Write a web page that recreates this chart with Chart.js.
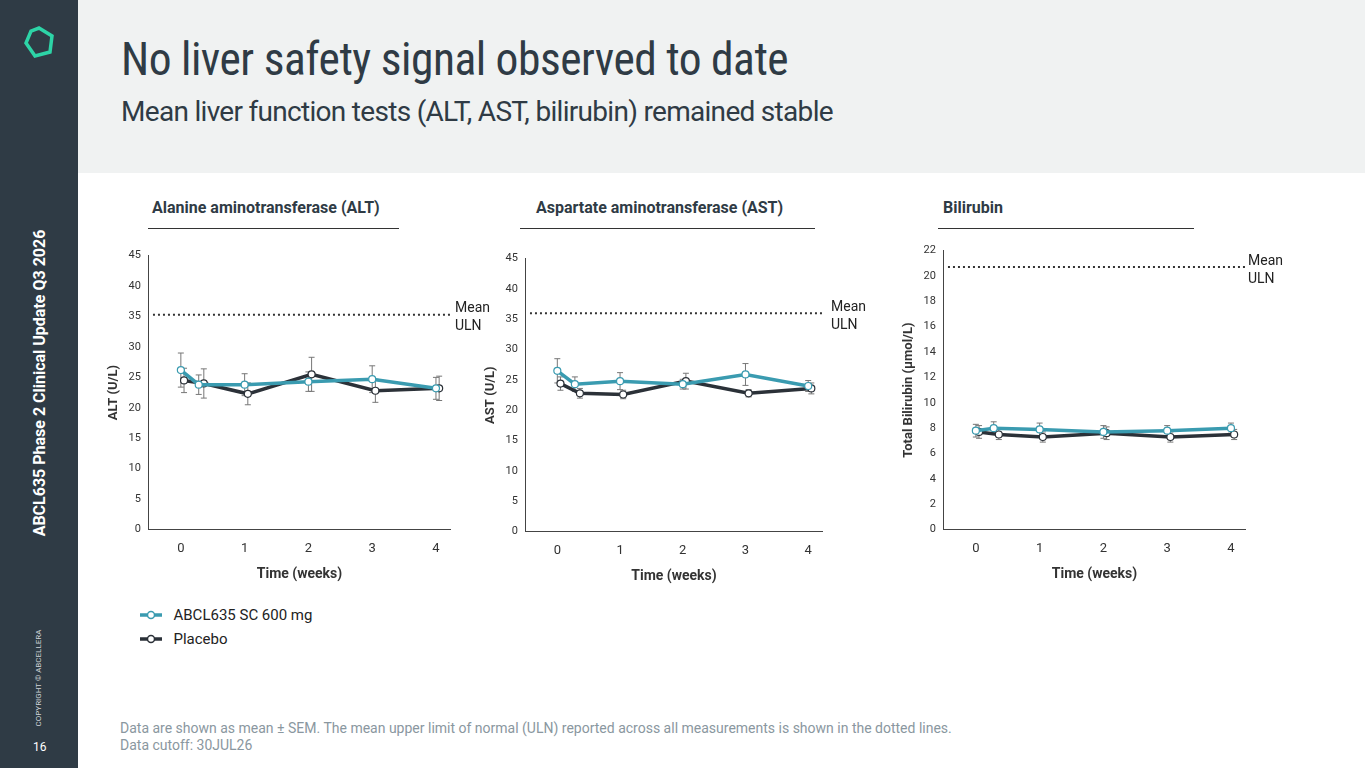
<html>
<head>
<script src="https://cdn.jsdelivr.net/npm/chart.js"></script>
<style>
body{margin:0;width:1365px;height:768px;position:relative;background:#fff;font-family:Roboto,sans-serif;overflow:hidden}
#side{position:absolute;left:0;top:0;width:78px;height:768px;background:#2f3b45}
#head{position:absolute;left:78px;top:0;width:1287px;height:173px;background:#f0f2f2}
h1{position:absolute;left:121px;top:33px;margin:0;font-size:45.5px;font-weight:400;color:#2f3b45;font-family:"Roboto Condensed",Roboto,sans-serif;letter-spacing:-0.5px}
h2{position:absolute;left:121px;top:95px;margin:0;font-size:28px;font-weight:400;color:#2f3b45;letter-spacing:-0.7px}
.sec{position:absolute;top:198px;font-size:16px;font-weight:700;color:#2f3b45;border-bottom:1.5px solid #333;padding-bottom:11px}
.box{position:absolute}
.uln{position:absolute;font-size:14px;color:#222;line-height:18px}
#vert{position:absolute;left:39px;top:383px;transform:translate(-50%,-50%) rotate(-90deg);white-space:nowrap;color:#fff;font-size:16px;font-weight:700}
#copy{position:absolute;left:38px;top:678px;transform:translate(-50%,-50%) rotate(-90deg);white-space:nowrap;color:#cfd5d8;font-size:8px}
#pg{position:absolute;left:33px;top:740px;color:#fff;font-size:12px}
.leg{position:absolute;left:140px;font-size:15px;color:#222}
.foot{position:absolute;left:120px;font-size:14px;color:#8a97a0}
</style>
</head>
<body>
<div id="side"></div>
<svg style="position:absolute;left:22px;top:25px" width="34" height="34"><polygon points="17,3 30,11 28,27 13,31 4,18 9,6" fill="none" stroke="#2dd4a7" stroke-width="3.5"/></svg>
<div id="vert">ABCL635 Phase 2 Clinical Update Q3 2026</div>
<div id="copy">COPYRIGHT © ABCELLERA</div>
<div id="pg">16</div>
<div id="head"></div>
<h1>No liver safety signal observed to date</h1>
<h2>Mean liver function tests (ALT, AST, bilirubin) remained stable</h2>

<div class="sec" style="left:148px;width:247px;padding-left:4px">Alanine aminotransferase (ALT)</div>
<div class="sec" style="left:520px;width:279px;padding-left:16px">Aspartate aminotransferase (AST)</div>
<div class="sec" style="left:938px;width:251px;padding-left:5px">Bilirubin</div>

<div class="box" style="left:102px;top:246px;width:358px;height:341px"><canvas id="c1"></canvas></div>
<div class="box" style="left:479px;top:249px;width:353px;height:340px"><canvas id="c2"></canvas></div>
<div class="box" style="left:897px;top:241px;width:358px;height:346px"><canvas id="c3"></canvas></div>
<div class="uln" style="left:455px;top:298px">Mean<br>ULN</div>
<div class="uln" style="left:831px;top:297px">Mean<br>ULN</div>
<div class="uln" style="left:1248px;top:251px">Mean<br>ULN</div>

<svg style="position:absolute;left:138px;top:606px" width="26" height="40">
<line x1="2" y1="9" x2="24" y2="9" stroke="#3a9bb0" stroke-width="3.5"/><circle cx="13" cy="9" r="3.5" fill="#fff" stroke="#3a9bb0" stroke-width="1.5"/>
<line x1="2" y1="33" x2="24" y2="33" stroke="#2b3138" stroke-width="3.5"/><circle cx="13" cy="33" r="3.5" fill="#fff" stroke="#2b3138" stroke-width="1.5"/>
</svg>
<div class="leg" style="top:606px">&nbsp;&nbsp;&nbsp;&nbsp;&nbsp;&nbsp;&nbsp;&nbsp;&nbsp;ABCL635 SC 600 mg</div>
<div class="leg" style="top:630px">&nbsp;&nbsp;&nbsp;&nbsp;&nbsp;&nbsp;&nbsp;&nbsp;&nbsp;Placebo</div>

<div class="foot" style="top:720px">Data are shown as mean ± SEM. The mean upper limit of normal (ULN) reported across all measurements is shown in the dotted lines.</div>
<div class="foot" style="top:737px">Data cutoff: 30JUL26</div>

<script>
const weeksDrug = [0, 0.28, 1, 2, 3, 4];
const weeksPbo = [0.05, 0.36, 1.05, 2.05, 3.05, 4.05];
const xTicks = [0, 1, 2, 3, 4];

const altDrug = [26.2, 23.8, 23.8, 24.3, 24.7, 23.2];
const altDrugErr = [2.8, 1.6, 1.8, 1.6, 2.2, 1.8];
const altPbo = [24.5, 24.0, 22.3, 25.5, 22.8, 23.2];
const altPboErr = [2.0, 2.4, 1.8, 2.8, 1.9, 2.0];
const altUln = 35.3;

const astDrug = [26.5, 24.3, 24.8, 24.3, 25.9, 24.0];
const astDrugErr = [2.0, 1.2, 1.4, 0.8, 1.8, 0.9];
const astPbo = [24.4, 22.8, 22.6, 24.8, 22.8, 23.6];
const astPboErr = [1.1, 0.8, 0.7, 1.3, 0.6, 0.9];
const astUln = 36.0;

const biliDrug = [7.8, 8.0, 7.9, 7.7, 7.8, 8.0];
const biliDrugErr = [0.5, 0.5, 0.5, 0.5, 0.4, 0.4];
const biliPbo = [7.7, 7.5, 7.3, 7.6, 7.3, 7.5];
const biliPboErr = [0.5, 0.4, 0.4, 0.5, 0.4, 0.4];
const biliUln = 20.7;

const TEAL = '#3a9bb0', DARK = '#2b3138';

const extras = {
  id: 'extras',
  afterDatasetsDraw(chart, args, opts) {
    const {ctx, scales: {y}, chartArea} = chart;
    ctx.save();
    // ULN dotted line
    ctx.strokeStyle = '#333'; ctx.lineWidth = 2; ctx.setLineDash([2, 3]);
    const yy = y.getPixelForValue(opts.uln);
    ctx.beginPath(); ctx.moveTo(chartArea.left + 4, yy); ctx.lineTo(chartArea.right, yy); ctx.stroke();
    ctx.restore();
  },
  beforeDatasetsDraw(chart) {
    const {ctx, scales: {x, y}} = chart;
    ctx.save();
    ctx.strokeStyle = '#777'; ctx.lineWidth = 1;
    chart.data.datasets.forEach(ds => {
      ds.data.forEach((p, i) => {
        const px = x.getPixelForValue(p.x);
        const y1 = y.getPixelForValue(p.y - ds.err[i]), y2 = y.getPixelForValue(p.y + ds.err[i]);
        ctx.beginPath();
        ctx.moveTo(px, y1); ctx.lineTo(px, y2);
        ctx.moveTo(px - 3, y1); ctx.lineTo(px + 3, y1);
        ctx.moveTo(px - 3, y2); ctx.lineTo(px + 3, y2);
        ctx.stroke();
      });
    });
    ctx.restore();
  }
};

function pts(xs, ys) { return xs.map((v, i) => ({x: v, y: ys[i]})); }

function make(id, drug, dErr, pbo, pErr, uln, yMax, yStep, yTitle) {
  new Chart(document.getElementById(id), {
    type: 'line',
    data: {datasets: [
      {data: pts(weeksDrug, drug), err: dErr, borderColor: TEAL, borderWidth: 3.5, pointRadius: 3.5,
       pointBackgroundColor: '#fff', pointBorderColor: TEAL, pointBorderWidth: 1.2},
      {data: pts(weeksPbo, pbo), err: pErr, borderColor: DARK, borderWidth: 3.5, pointRadius: 3.5,
       pointBackgroundColor: '#fff', pointBorderColor: DARK, pointBorderWidth: 1.2}
    ]},
    options: {
      responsive: true, maintainAspectRatio: false, animation: false,
      layout: {padding: {right: 10, top: 6}},
      plugins: {legend: {display: false}, tooltip: {enabled: false}, extras: {uln: uln}},
      scales: {
        x: {type: 'linear', min: -0.5, max: 4.22,
            afterBuildTicks: s => { s.ticks = xTicks.map(v => ({value: v})); },
            grid: {display: false, drawTicks: true, tickLength: 5},
            border: {color: '#444'},
            ticks: {color: '#333', font: {family: 'Roboto', size: 13}, padding: 6},
            title: {display: true, text: 'Time (weeks)', color: '#333', font: {family: 'Roboto', size: 14, weight: 'bold'}}},
        y: {min: 0, max: yMax,
            grid: {display: false, drawTicks: true, tickLength: 5},
            border: {color: '#444'},
            ticks: {stepSize: yStep, color: '#333', font: {family: 'Roboto', size: 11}},
            title: {display: true, text: yTitle, color: '#333', font: {family: 'Roboto', size: 13, weight: 'bold'}}}
      }
    },
    plugins: [extras]
  });
}

make('c1', altDrug, altDrugErr, altPbo, altPboErr, altUln, 45, 5, 'ALT (U/L)');
make('c2', astDrug, astDrugErr, astPbo, astPboErr, astUln, 45, 5, 'AST (U/L)');
make('c3', biliDrug, biliDrugErr, biliPbo, biliPboErr, biliUln, 22, 2, 'Total Bilirubin (µmol/L)');
</script>
</body>
</html>
